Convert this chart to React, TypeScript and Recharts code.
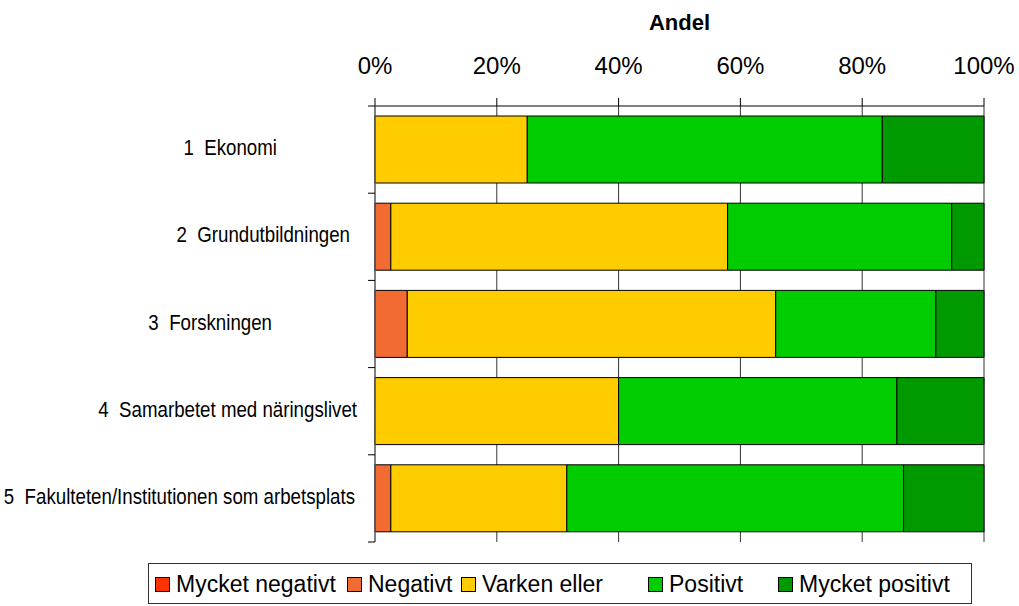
import { Bar, BarChart, CartesianGrid, Legend, XAxis, YAxis } from "recharts";

const categories = [
  "1  Ekonomi",
  "2  Grundutbildningen",
  "3  Forskningen",
  "4  Samarbetet med näringslivet",
  "5  Fakulteten/Institutionen som arbetsplats",
];

// andel i procent per kategori
const mycketNegativt = [0, 0, 0, 0, 0];
const negativt = [0, 2.6, 5.3, 0, 2.6];
const varkenEller = [25, 55.3, 60.5, 40, 28.9];
const positivt = [58.3, 36.8, 26.3, 45.7, 55.3];
const mycketPositivt = [16.7, 5.3, 7.9, 14.3, 13.2];

const xTicks = [0, 20, 40, 60, 80, 100];

const series = [
  { key: "mn", name: "Mycket negativt", color: "#FF3300", values: mycketNegativt },
  { key: "n", name: "Negativt", color: "#F26B32", values: negativt },
  { key: "v", name: "Varken eller", color: "#FFCC00", values: varkenEller },
  { key: "p", name: "Positivt", color: "#00CC00", values: positivt },
  { key: "mp", name: "Mycket positivt", color: "#009900", values: mycketPositivt },
];

const data = categories.map((name, i) => {
  const row: Record<string, string | number> = { name };
  series.forEach((s) => (row[s.key] = s.values[i]));
  return row;
});

const FONT = "'Liberation Sans', Arial, sans-serif";
const PLOT_TOP = 106;
const PLOT_BOTTOM = 542;
const BAND = (PLOT_BOTTOM - PLOT_TOP) / categories.length;
// hur långt till vänster om axeln varje etikett slutar
const labelGap = [98, 25, 103, 18, 20];
// legendens poster, x-läge för varje ruta (sidkoordinater)
const LEGEND_LEFT = 148;
const legendItemX = [155, 347, 461, 648, 778];

function CategoryTick(props: any) {
  const { x, y, payload, index } = props;
  const top = y - BAND / 2;
  return (
    <g>
      <line x1={x - 7} x2={x} y1={top} y2={top} stroke="#000" />
      {index === categories.length - 1 && (
        <line x1={x - 7} x2={x} y1={top + BAND} y2={top + BAND} stroke="#000" />
      )}
      <text
        transform={`translate(${x - labelGap[index]}, ${y}) scale(0.85, 1)`}
        dy="0.25em"
        textAnchor="end"
        fontFamily={FONT}
        fontSize={22}
        fill="#000"
        style={{ whiteSpace: "pre" }}
      >
        {payload.value}
      </text>
    </g>
  );
}

function LegendBox() {
  return (
    <div
      style={{
        position: "relative",
        boxSizing: "border-box",
        height: 41,
        border: "1px solid #333",
        fontFamily: FONT,
        fontSize: 23,
        color: "#000",
        whiteSpace: "nowrap",
      }}
    >
      {series.map((s, i) => (
        <div
          key={s.key}
          style={{
            position: "absolute",
            left: legendItemX[i] - LEGEND_LEFT - 1,
            top: 1,
            height: 39,
            display: "flex",
            alignItems: "center",
          }}
        >
          <span
            style={{
              display: "inline-block",
              width: 13,
              height: 13,
              background: s.color,
              border: "1px solid #000",
              marginRight: 6,
            }}
          />
          <span>{s.name}</span>
        </div>
      ))}
    </div>
  );
}

export default function App() {
  return (
    <div style={{ position: "absolute", left: 0, top: 0, fontFamily: FONT }}>
      <BarChart
        width={1019}
        height={606}
        data={data}
        layout="vertical"
        margin={{ top: 0, right: 35, bottom: 23, left: 0 }}
      >
        <CartesianGrid horizontal={false} stroke="#333" />
        <XAxis
          type="number"
          orientation="top"
          domain={[0, 100]}
          ticks={xTicks}
          tickFormatter={(v) => `${v}%`}
          height={106}
          tickSize={8}
          tickMargin={24}
          interval={0}
          axisLine={{ stroke: "#000" }}
          tickLine={{ stroke: "#000" }}
          tick={{ fontSize: 24, fill: "#000" }}
          label={{
            value: "Andel",
            position: "insideTop",
            offset: 14,
            fontSize: 22,
            fontWeight: "bold",
            fill: "#000",
          }}
        />
        <XAxis
          xAxisId="bottom"
          type="number"
          orientation="bottom"
          domain={[0, 100]}
          height={0}
          tick={false}
          tickLine={false}
          axisLine={{ stroke: "#999" }}
        />
        <YAxis
          type="category"
          dataKey="name"
          width={375}
          tickSize={0}
          tickMargin={0}
          tickLine={false}
          axisLine={{ stroke: "#666" }}
          tick={<CategoryTick />}
          interval={0}
        />
        <Legend
          verticalAlign="bottom"
          content={<LegendBox />}
          wrapperStyle={{ left: LEGEND_LEFT, width: 824, bottom: 2 }}
        />
        {series.map((s) => (
          <Bar
            key={s.key}
            dataKey={s.key}
            name={s.name}
            stackId="a"
            fill={s.color}
            stroke="#000"
            strokeWidth={1}
            barSize={67}
            isAnimationActive={false}
          />
        ))}
      </BarChart>
    </div>
  );
}
